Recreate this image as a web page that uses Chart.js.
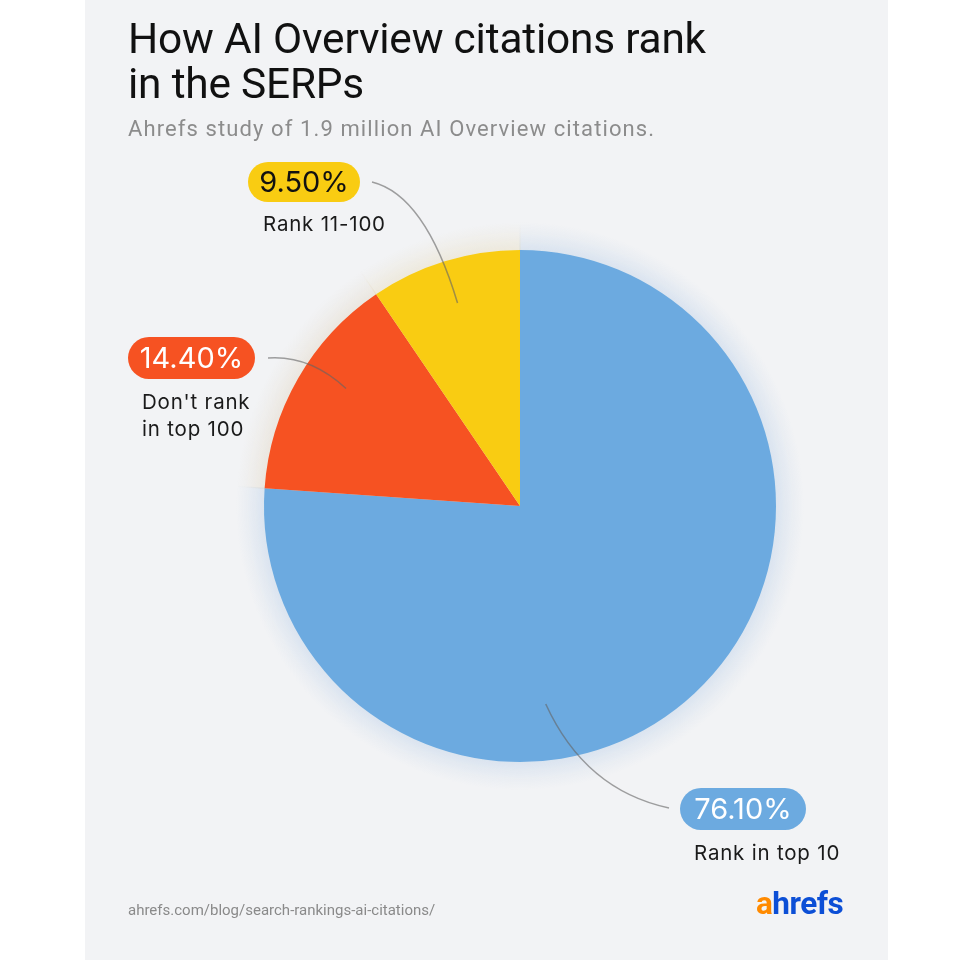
<!DOCTYPE html>
<html>
<head>
<meta charset="utf-8">
<script src="https://cdn.jsdelivr.net/npm/chart.js@4.4.0/dist/chart.umd.min.js"></script>
<style>
  html, body { margin: 0; padding: 0; background: #ffffff; }
  body { width: 960px; height: 960px; position: relative; overflow: hidden; font-family: "Roboto", sans-serif; }
  #panel { position: absolute; left: 85px; top: 0; width: 803px; height: 960px; background: #f2f3f5; }
  #c { position: absolute; left: 0; top: 0; }
  .title { position: absolute; left: 128px; top: 16px; font-size: 42.4px; line-height: 45px; color: #111; font-weight: 400; letter-spacing: -0.2px; }
  .subtitle { position: absolute; left: 128px; top: 116px; font-size: 22px; color: #8c8c8c; letter-spacing: 1.1px; }
  .pill { position: absolute; border-radius: 22px; font-family: "Inter", sans-serif; font-size: 29px; text-align: center; box-sizing: border-box; }
  .lbl { position: absolute; font-family: "Inter", sans-serif; font-size: 20.5px; line-height: 27px; color: #1a1a1a; letter-spacing: 0.8px; }
  .src { position: absolute; left: 128px; top: 901px; font-size: 15px; color: #8a8a8a; }
  .logo { position: absolute; left: 756px; top: 885px; font-size: 31.5px; font-weight: 700; letter-spacing: -0.5px; }
</style>
</head>
<body>
<div id="panel"></div>
<canvas id="c" width="960" height="960"></canvas>
<div class="title" id="title"></div>
<div class="subtitle" id="subtitle"></div>
<div class="src" id="src"></div>
<div class="logo"><span style="color:#ff8a00">a</span><span style="color:#0c4fd6">hrefs</span></div>
<script>
// ---- data ----
const categories = ["Rank in top 10", "Don't rank\nin top 100", "Rank 11-100"];
const values = [76.10, 14.40, 9.50];
const colors = ["#6caae0", "#f65222", "#f9cc12"];
const titleText = "How AI Overview citations rank\nin the SERPs";
const subtitleText = "Ahrefs study of 1.9 million AI Overview citations.";
const sourceText = "ahrefs.com/blog/search-rankings-ai-citations/";

document.getElementById('title').innerHTML = titleText.split('\n').join('<br>');
document.getElementById('subtitle').textContent = subtitleText;
document.getElementById('src').textContent = sourceText;

// ---- styling for halo and callouts (not data) ----
const haloRGB = ["150,185,225", "215,195,160", "225,205,150"];
const callouts = [
  { frac: 0.63, rf: 0.78, pill: {left: 680, top: 788, w: 126, h: 42}, textColor: '#fff', lbl: {left: 694, top: 839}, end: [669, 808], ctrl: [585, 790] },
  { frac: 0.58, rf: 0.82, pill: {left: 128, top: 337, w: 127, h: 42}, textColor: '#fff', lbl: {left: 142, top: 388}, end: [268, 358], ctrl: [310, 355] },
  { frac: 0.5,  rf: 0.83, pill: {left: 248, top: 162, w: 112, h: 40}, textColor: '#111', lbl: {left: 263, top: 210}, end: [372, 182], ctrl: [425, 195] }
];

callouts.forEach((c, i) => {
  const p = document.createElement('div');
  p.className = 'pill';
  p.style.left = c.pill.left + 'px';
  p.style.top = c.pill.top + 'px';
  p.style.width = c.pill.w + 'px';
  p.style.height = c.pill.h + 'px';
  p.style.lineHeight = c.pill.h + 'px';
  p.style.background = colors[i];
  p.style.color = c.textColor;
  p.textContent = values[i].toFixed(2) + '%';
  document.body.appendChild(p);
  const l = document.createElement('div');
  l.className = 'lbl';
  l.style.left = c.lbl.left + 'px';
  l.style.top = c.lbl.top + 'px';
  l.innerHTML = categories[i].split('\n').join('<br>');
  document.body.appendChild(l);
});

const haloPlugin = {
  id: 'halo',
  beforeDatasetsDraw(chart) {
    const ctx = chart.ctx;
    const arcs = chart.getDatasetMeta(0).data;
    ctx.save();
    arcs.forEach((a, i) => {
      const R = a.outerRadius;
      const ext = 28;
      const g = ctx.createRadialGradient(a.x, a.y, R - 2, a.x, a.y, R + ext);
      g.addColorStop(0, `rgba(${haloRGB[i]},0.28)`);
      g.addColorStop(0.35, `rgba(${haloRGB[i]},0.16)`);
      g.addColorStop(0.7, `rgba(${haloRGB[i]},0.06)`);
      g.addColorStop(1, `rgba(${haloRGB[i]},0)`);
      ctx.beginPath();
      ctx.moveTo(a.x, a.y);
      ctx.arc(a.x, a.y, R + ext, a.startAngle - 0.002, a.endAngle + 0.002);
      ctx.closePath();
      ctx.fillStyle = g;
      ctx.fill();
    });
    ctx.restore();
  },
  afterDatasetsDraw(chart) {
    const ctx = chart.ctx;
    const arcs = chart.getDatasetMeta(0).data;
    ctx.save();
    ctx.strokeStyle = 'rgba(100,100,100,0.6)';
    ctx.lineWidth = 1.5;
    arcs.forEach((a, i) => {
      const c = callouts[i];
      const ang = a.startAngle + (a.endAngle - a.startAngle) * c.frac;
      const sx = a.x + Math.cos(ang) * a.outerRadius * c.rf;
      const sy = a.y + Math.sin(ang) * a.outerRadius * c.rf;
      ctx.beginPath();
      ctx.moveTo(c.end[0], c.end[1]);
      ctx.quadraticCurveTo(c.ctrl[0], c.ctrl[1], sx, sy);
      ctx.stroke();
    });
    ctx.restore();
  }
};

new Chart(document.getElementById('c'), {
  type: 'pie',
  data: {
    labels: categories,
    datasets: [{ data: values, backgroundColor: colors, borderWidth: 0 }]
  },
  options: {
    responsive: false,
    animation: false,
    events: [],
    layout: { padding: { left: 264, right: 184, top: 250, bottom: 198 } },
    plugins: { legend: { display: false }, tooltip: { enabled: false } }
  },
  plugins: [haloPlugin]
});
</script>
</body>
</html>
